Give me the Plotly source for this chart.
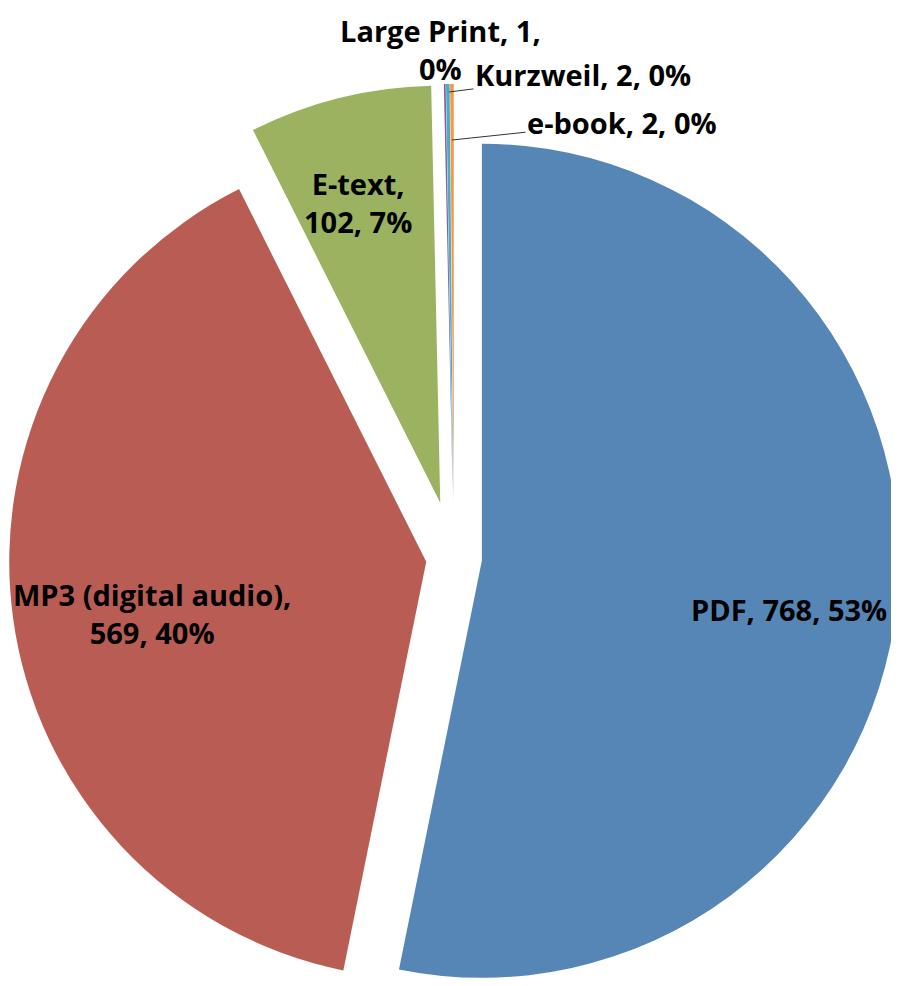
import math
import plotly.graph_objects as go

# ---- data ----
categories = ["PDF", "MP3 (digital audio)", "E-text", "Large Print", "Kurzweil", "e-book"]
counts = [768, 569, 102, 1, 2, 2]
pct_labels = [53, 40, 7, 0, 0, 0]     # percentages as printed on the chart

# ---- styles ----
slice_colors = ["#5686b6", "#b95d54", "#9bb360", "#8064a2", "#4bacc6", "#f79646"]
explode_px = [28, 28, 57, 57, 57, 57]   # how far each slice is pulled out (px)

PAGE_OFF = 8                            # page body margin
W, H = 899 - PAGE_OFF, 986 - PAGE_OFF
CX, CY, R = 454 - PAGE_OFF, 558 - PAGE_OFF, 417   # pie centre / radius (figure px)


def px(x):
    return (x - PAGE_OFF) / W


def py(y):
    return 1 - (y - PAGE_OFF) / H


total = sum(counts)

fig = go.Figure()
cum = 0.0
for i, (cat, val) in enumerate(zip(categories, counts)):
    frac = val / total
    mid = (cum + frac / 2) * 2 * math.pi
    cum += frac
    cx = CX + explode_px[i] * math.sin(mid)
    cy = CY - explode_px[i] * math.cos(mid)
    x0 = max(0.0, (cx - R) / W)
    x1 = min(1.0, (cx + R) / W)
    y0 = max(0.0, 1 - (cy + R) / H)
    y1 = min(1.0, 1 - (cy - R) / H)
    cols = ["rgba(0,0,0,0)"] * len(categories)
    cols[i] = slice_colors[i]
    fig.add_trace(go.Pie(
        labels=categories,
        values=counts,
        sort=False,
        direction="clockwise",
        rotation=0,
        marker=dict(colors=cols, line=dict(width=0)),
        textinfo="none",
        hoverinfo="label+value+percent",
        showlegend=False,
        domain=dict(x=[x0, x1], y=[y0, y1]),
    ))

font = dict(family="Open Sans", size=29, color="black", weight="bold")

annotations = [
    dict(text=f"{categories[0]}, {counts[0]}, {pct_labels[0]}%", x=px(789), y=py(609)),
    dict(text=f"{categories[1]},<br>{counts[1]}, {pct_labels[1]}%", x=px(152), y=py(613)),
    dict(text=f"{categories[2]},<br>{counts[2]}, {pct_labels[2]}%", x=px(358), y=py(203)),
    dict(text=f"{categories[3]}, {counts[3]},<br>{pct_labels[3]}%", x=px(440), y=py(50)),
]
for a in annotations:
    a.update(xref="paper", yref="paper", xanchor="center", yanchor="middle",
             showarrow=False, font=font)

# labels with leader lines for the tiny slices
annotations.append(dict(text=f"{categories[4]}, {counts[4]}, {pct_labels[4]}%",
                        xref="paper", yref="paper",
                        x=px(449), y=py(92), ax=134, ay=-17,
                        showarrow=True, arrowhead=0, arrowwidth=1,
                        arrowcolor="#333333", font=font))
annotations.append(dict(text=f"{categories[5]}, {counts[5]}, {pct_labels[5]}%",
                        xref="paper", yref="paper",
                        x=px(452), y=py(140), ax=170, ay=-18,
                        showarrow=True, arrowhead=0, arrowwidth=1,
                        arrowcolor="#333333", font=font))

fig.update_layout(
    width=W, height=H,
    margin=dict(l=0, r=0, t=0, b=0),
    paper_bgcolor="white",
    plot_bgcolor="white",
    annotations=annotations,
)

fig.write_html("out.html")
